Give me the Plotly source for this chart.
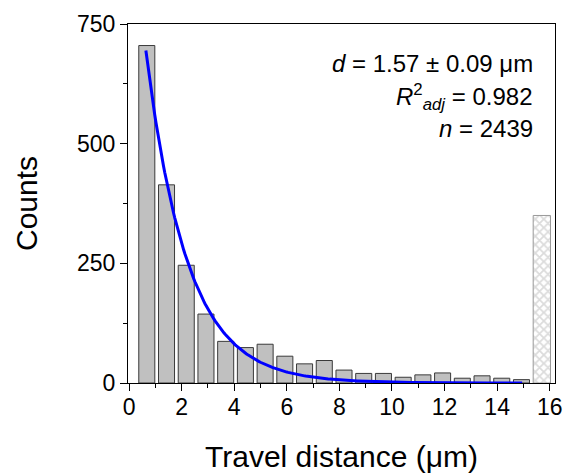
import numpy as np
import plotly.graph_objects as go

# Histogram bins (travel distance, µm) and counts
bin_centers = [0.675, 1.425, 2.175, 2.925, 3.675, 4.425, 5.175, 5.925, 6.675, 7.425,
               8.175, 8.925, 9.675, 10.425, 11.175, 11.925, 12.675, 13.425, 14.175, 14.925]
counts = [705, 414, 246, 144, 87, 74, 81, 56, 40, 47,
          27, 20, 20, 12, 17, 21, 10, 15, 10, 7]

# Overflow bin (hatched)
overflow_x = [15.7]
overflow_count = [350]

# Exponential fit parameters
fit_amplitude = 1044.0
fit_decay = 1.57

x_ticks = [0, 2, 4, 6, 8, 10, 12, 14, 16]
y_ticks = [0, 250, 500, 750]

FONT = "Liberation Sans, Arial, sans-serif"

fit_x = np.linspace(0.64, 14.95, 300)
fit_y = fit_amplitude * np.exp(-fit_x / fit_decay)

fig = go.Figure()
fig.add_trace(go.Bar(
    x=bin_centers, y=counts, width=0.61,
    marker=dict(color="#c0c0c0", line=dict(color="#3a3a3a", width=1)),
    showlegend=False, hoverinfo="x+y",
))
fig.add_trace(go.Bar(
    x=overflow_x, y=overflow_count, width=0.66,
    marker=dict(color="white", line=dict(color="#9a9a9a", width=1),
                pattern=dict(shape="x", fgcolor="#b8b8b8", bgcolor="white",
                             size=6, solidity=0.5)),
    showlegend=False, hoverinfo="x+y",
))
fig.add_trace(go.Scatter(
    x=fit_x, y=fit_y, mode="lines",
    line=dict(color="#0000ff", width=3),
    showlegend=False, hoverinfo="skip",
))

axis_common = dict(
    showline=True, linecolor="black", linewidth=1.3, mirror=True,
    ticks="outside", ticklen=7, tickwidth=1.3, tickcolor="black",
    showgrid=False, zeroline=False, automargin=False,
    tickfont=dict(family=FONT, size=23, color="black"),
)

fig.update_layout(
    width=565, height=475,
    margin=dict(l=128, r=10, t=24, b=92),
    paper_bgcolor="white", plot_bgcolor="white",
    barmode="overlay",
    font=dict(family=FONT, color="black"),
    xaxis=dict(
        range=[-0.04, 16.2], tickvals=x_ticks,
        minor=dict(dtick=1, ticks="outside", ticklen=4, tickwidth=1.3, tickcolor="black"),
        ticklabelstandoff=-4,
        title=dict(text="Travel distance (μm)", font=dict(family=FONT, size=30), standoff=27),
        **axis_common,
    ),
    yaxis=dict(
        range=[0, 750], tickvals=y_ticks,
        minor=dict(dtick=125, ticks="outside", ticklen=4, tickwidth=1.3, tickcolor="black"),
        title=dict(text="Counts", font=dict(family=FONT, size=30), standoff=30),
        **axis_common,
    ),
    annotations=[
        dict(xref="paper", yref="paper", x=0.952, y=0.891, xanchor="right", yanchor="middle",
             text="<i>d</i> = 1.57 ± 0.09 μm", showarrow=False,
             font=dict(family=FONT, size=24, color="black")),
        dict(xref="paper", yref="paper", x=0.952, y=0.797, xanchor="right", yanchor="middle",
             text="<i>R</i><sup>2</sup><sub><i>adj</i></sub> = 0.982", showarrow=False,
             font=dict(family=FONT, size=24, color="black")),
        dict(xref="paper", yref="paper", x=0.952, y=0.708, xanchor="right", yanchor="middle",
             text="<i>n</i> = 2439", showarrow=False,
             font=dict(family=FONT, size=24, color="black")),
    ],
)

fig.write_html("out.html", config={"displayModeBar": False},
               post_script="document.body.style.margin='0';")
